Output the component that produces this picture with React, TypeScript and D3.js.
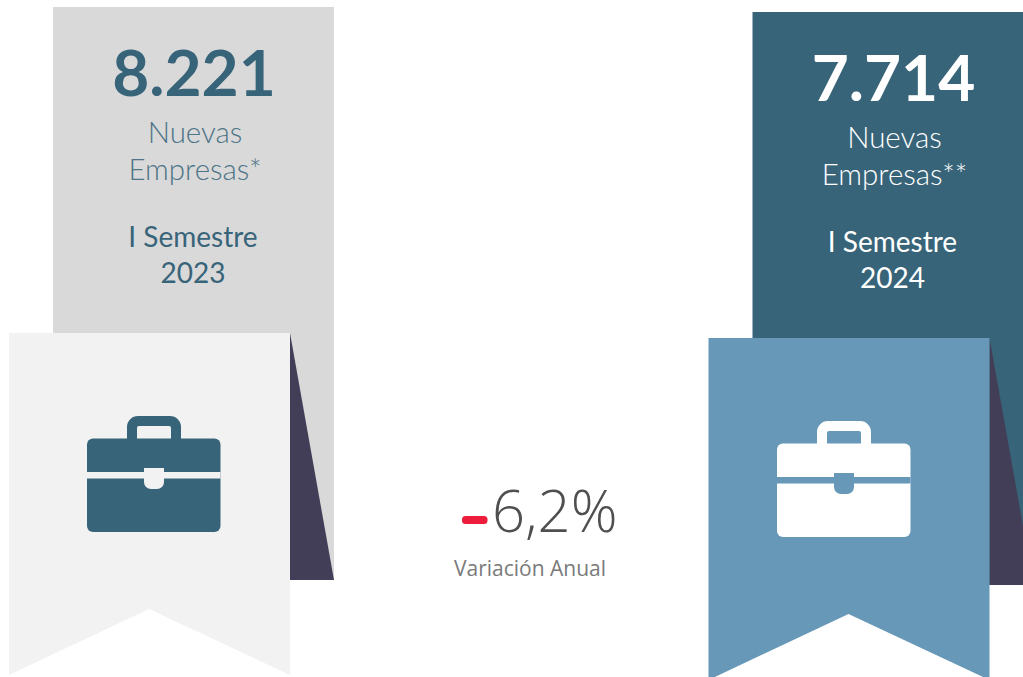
import React from 'react';
import * as d3 from 'd3';

const periods = ['2023', '2024'];
const totals = ['8.221', '7.714'];
const notes = ['Nuevas Empresas*', 'Nuevas Empresas**'];
const semesterLabel = 'I Semestre';
const panelColors = ['#d9d9d9', '#386479'];
const ribbonColors = ['#f2f2f2', '#6798b7'];
const iconColors = ['#386479', '#ffffff'];
const totalColors = ['#386479', '#ffffff'];
const noteColors = ['#4d7487', '#ffffff'];
const foldColor = '#433e57';
const variationValue = '6,2%';
const variationLabel = 'Variación Anual';

const width = 1023;
const height = 677;

const panelX = d3.scalePoint<string>().domain(periods).range([0, 699.5]);
const panelY = d3.scalePoint<string>().domain(periods).range([0, 5]);
// the right icon sits a little further left on its ribbon
const iconX = d3.scalePoint<string>().domain(periods).range([0, -9.5]);

const ribbonPath = () => {
  const p = d3.path();
  p.moveTo(9, 333);
  p.lineTo(290, 333);
  p.lineTo(290, 675);
  p.lineTo(149, 609);
  p.lineTo(9, 675);
  p.closePath();
  return p.toString();
};

const foldPath = () => {
  const p = d3.path();
  p.moveTo(290, 333);
  p.lineTo(334, 580);
  p.lineTo(290, 580);
  p.closePath();
  return p.toString();
};

const handlePath = () => {
  const p = d3.path();
  p.moveTo(127, 440);
  p.lineTo(127, 427);
  p.arcTo(127, 416, 138, 416, 11);
  p.lineTo(170, 416);
  p.arcTo(181, 416, 181, 427, 11);
  p.lineTo(181, 440);
  p.lineTo(171, 440);
  p.lineTo(171, 428);
  p.arcTo(171, 426, 169, 426, 2);
  p.lineTo(139, 426);
  p.arcTo(137, 426, 137, 428, 2);
  p.lineTo(137, 440);
  p.closePath();
  return p.toString();
};

const claspPath = () => {
  const p = d3.path();
  p.moveTo(144, 468);
  p.lineTo(164, 468);
  p.lineTo(164, 482);
  p.arcTo(164, 489, 157, 489, 7);
  p.lineTo(151, 489);
  p.arcTo(144, 489, 144, 482, 7);
  p.closePath();
  return p.toString();
};

const Panel = ({ period, i }: { period: string; i: number }) => {
  const [noteTop, noteBottom] = notes[i].split(' ');
  const light = { fontFamily: 'Lato', fontWeight: 300, fontSize: 29.5, fill: noteColors[i], textAnchor: 'middle' as const };
  const regular = { fontFamily: 'Lato', fontWeight: 400, fontSize: 28, fill: totalColors[i], textAnchor: 'middle' as const };
  return (
    <g transform={`translate(${panelX(period)},${panelY(period)})`}>
      <rect x={53} y={7} width={281} height={573} fill={panelColors[i]} />
      <path d={foldPath()} fill={foldColor} />
      <path d={ribbonPath()} fill={ribbonColors[i]} />
      <g transform={`translate(${iconX(period)},0)`}>
        <rect x={87} y={438.5} width={133.5} height={93.5} rx={6} fill={iconColors[i]} />
        <path d={handlePath()} fill={iconColors[i]} />
        <rect x={87} y={472} width={133.5} height={6.5} fill={ribbonColors[i]} />
        <path d={claspPath()} fill={ribbonColors[i]} />
      </g>
      <text x={194} y={96} textAnchor="middle" fontFamily="Lato" fontWeight={700} fontSize={64} fill={totalColors[i]}>{totals[i]}</text>
      <text x={195} y={142.5} {...light}>{noteTop}</text>
      <text x={195} y={180} {...light}>{noteBottom}</text>
      <text x={193} y={247} {...regular}>{semesterLabel}</text>
      <text x={193} y={283} {...regular}>{period}</text>
    </g>
  );
};

const App = () => (
  <svg
    width={width}
    height={height}
    viewBox={`0 0 ${width} ${height}`}
    style={{ position: 'fixed', left: 0, top: 0, background: '#fff' }}
  >
    {periods.map((period, i) => <Panel key={period} period={period} i={i} />)}
    <rect x={462} y={516} width={25.5} height={8} rx={3.5} fill="#ed1c3a" />
    <text x={492} y={532} fontFamily="Open Sans" fontWeight={300} fontSize={58} fill="#4f4f4f">{variationValue}</text>
    <text x={454} y={576} fontFamily="Open Sans" fontWeight={400} fontSize={21} fill="#7a7a7a">{variationLabel}</text>
  </svg>
);

export default App;
